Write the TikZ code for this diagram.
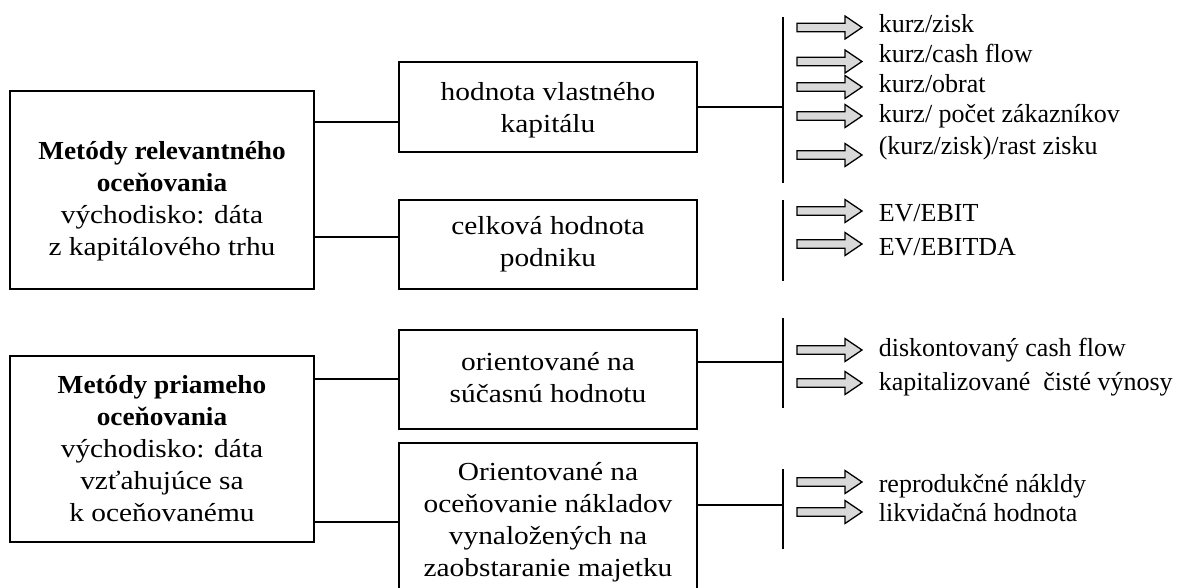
\documentclass[tikz,border=0pt]{standalone}
\usepackage{fontspec}
\setmainfont{Liberation Serif}
\newfontfamily\pal[FakeStretch=1.13,BoldFeatures={FakeStretch=1.05}]{Liberation Serif}
\definecolor{arrowgray}{HTML}{D9D9D9}
\begin{document}
\begin{tikzpicture}[x=1pt,y=-1pt,
  line width=1.6pt,
  box/.style={draw, line width=1.6pt, inner sep=0pt},
  boxtext/.style={inner sep=0pt, align=center, font=\pal\fontsize{26}{32}\selectfont},
  item/.style={anchor=base west, inner sep=0pt, font=\fontsize{26}{30}\selectfont},
  bar/.style={line width=1.6pt},
  conn/.style={line width=1.6pt},
  blockarrow/.pic={\draw[line width=1.3pt, fill=arrowgray, line join=miter]
     (0,-4.3) -- (48,-4.3) -- (48,-11.5) -- (65,0) -- (48,11.5) -- (48,4.3) -- (0,4.3) -- cycle;}
]
\useasboundingbox (0,0) rectangle (1183,588);
\clip (0,0) rectangle (1183,588);

% left boxes
\node[box, minimum width=304pt, minimum height=198pt] (L1) at (162,190) {};
\node[boxtext] (L1t) at (162,201)
  {\textbf{Metódy relevantného}\\\textbf{oceňovania}\\východisko: dáta\\z kapitálového trhu};
\node[box, minimum width=304pt, minimum height=186pt] (L2) at (162,449) {};
\node[boxtext] (L2t) at (162,449)
  {\textbf{Metódy priameho}\\\textbf{oceňovania}\\východisko: dáta\\vzťahujúce sa\\k oceňovanému};

% middle boxes
\node[box, minimum width=298pt, minimum height=90pt] (M1) at (548,107) {};
\node[boxtext] (M1t) at (548,110) {hodnota vlastného\\kapitálu};
\node[box, minimum width=298pt, minimum height=89pt] (M2) at (548,244.5) {};
\node[boxtext] (M2t) at (548,244.5) {celková hodnota\\podniku};
\node[box, minimum width=298pt, minimum height=99pt] (M3) at (548,379.5) {};
\node[boxtext] (M3t) at (548,378) {orientované na\\súčasnú hodnotu};
\node[box, minimum width=298pt, minimum height=158pt] (M4) at (548,522) {};
\node[boxtext] (M4t) at (548,522)
  {Orientované na\\oceňovanie nákladov\\vynaložených na\\zaobstaranie majetku};

% left connectors
\draw[conn] (L1.east |- 0,122) -- (M1.west |- 0,122);
\draw[conn] (L1.east |- 0,237) -- (M2.west |- 0,237);
\draw[conn] (L2.east |- 0,379) -- (M3.west |- 0,379);
\draw[conn] (L2.east |- 0,522) -- (M4.west |- 0,522);

% vertical bars
\coordinate (B1t) at (783,17);  \coordinate (B1b) at (783,183);
\coordinate (B2t) at (783,200); \coordinate (B2b) at (783,281);
\coordinate (B3t) at (783,318); \coordinate (B3b) at (783,408);
\coordinate (B4t) at (783,469); \coordinate (B4b) at (783,549);
\draw[bar] (B1t) -- (B1b);
\draw[bar] (B2t) -- (B2b);
\draw[bar] (B3t) -- (B3b);
\draw[bar] (B4t) -- (B4b);

% right connectors
\draw[conn] (M1.east |- 0,107) -- (B1t |- 0,107);
\draw[conn] (M3.east |- 0,362) -- (B3t |- 0,362);
\draw[conn] (M4.east |- 0,505) -- (B4t |- 0,505);

% block arrows
\foreach \y in {27.5,61.5,87,116,155,211,244,350,383,482,512}
  \pic at (797,\y) {blockarrow};

% items
\node[item] (t1) at (878,33) {kurz/zisk};
\node[item] (t2) at (878,63) {kurz/cash flow};
\node[item] (t3) at (878,93) {kurz/obrat};
\node[item] (t4) at (878,123) {kurz/ počet zákazníkov};
\node[item] (t5) at (878,155) {(kurz/zisk)/rast zisku};
\node[item] (t6) at (878,222) {EV/EBIT};
\node[item] (t7) at (878,255) {EV/EBITDA};
\node[item] (t8) at (878,356) {diskontovaný cash flow};
\node[item] (t9) at (878,390) {kapitalizované\ \ čisté výnosy};
\node[item] (t10) at (878,492) {reprodukčné nákldy};
\node[item] (t11) at (878,521) {likvidačná hodnota};
\end{tikzpicture}
\end{document}
